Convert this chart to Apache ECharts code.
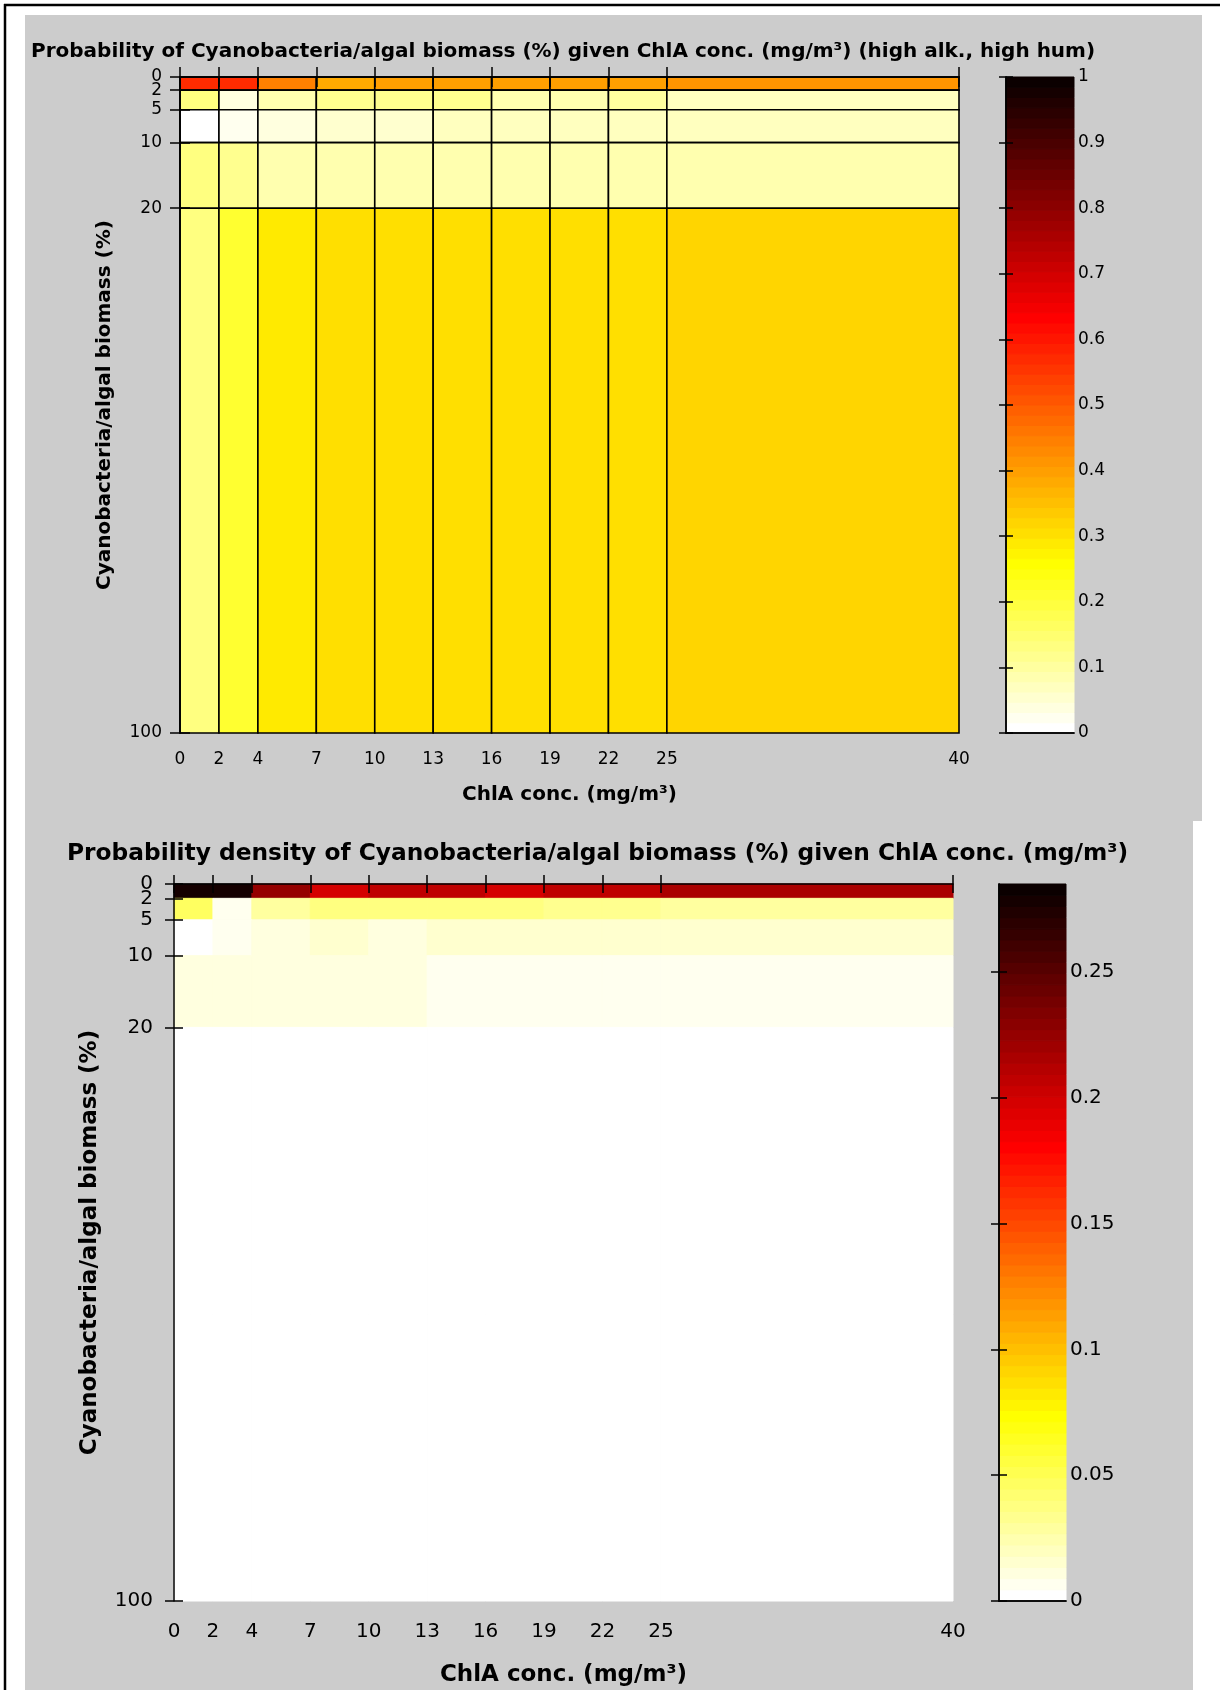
<!DOCTYPE html>
<html>
<head>
<meta charset="utf-8">
<title>Cyanobacteria / ChlA probability</title>
<script src="https://cdn.jsdelivr.net/npm/echarts@6/dist/echarts.min.js"></script>
<style>
  html, body { margin: 0; padding: 0; background: #fff; }
  #chart { width: 1220px; height: 1690px; }
</style>
</head>
<body>
<div id="chart"></div>
<script>
// bin edges (cells are drawn between consecutive edges)
const chlaEdges = [0, 2, 4, 7, 10, 13, 16, 19, 22, 25, 40];
const cyanoEdges = [0, 2, 5, 10, 20, 100];
// tick labels
const chlaTicks = [0, 2, 4, 7, 10, 13, 16, 19, 22, 25, 40];
const cyanoTicks = [0, 2, 5, 10, 20, 100];
const probBarTicks = [0, 0.1, 0.2, 0.3, 0.4, 0.5, 0.6, 0.7, 0.8, 0.9, 1];
const densBarTicks = [0, 0.05, 0.1, 0.15, 0.2, 0.25];
const probMax = 1;
const densMax = 0.285;

// top chart: probability, one array per cyano bin, one value per ChlA bin
const prob0to2   = [0.565, 0.565, 0.45, 0.39, 0.40, 0.40, 0.40, 0.405, 0.405, 0.42];
const prob2to5   = [0.14, 0.033, 0.083, 0.113, 0.113, 0.117, 0.093, 0.093, 0.10, 0.078];
const prob5to10  = [0.0, 0.023, 0.041, 0.062, 0.057, 0.07, 0.068, 0.078, 0.07, 0.066];
const prob10to20 = [0.133, 0.12, 0.088, 0.088, 0.083, 0.083, 0.085, 0.085, 0.088, 0.085];
const prob20to100 = [0.133, 0.217, 0.284, 0.30, 0.30, 0.30, 0.307, 0.312, 0.312, 0.328];

// bottom chart: probability density
const dens0to2   = [0.278, 0.278, 0.227, 0.1995, 0.208, 0.205, 0.1995, 0.205, 0.205, 0.214];
const dens2to5   = [0.0475, 0.0086, 0.0285, 0.038, 0.038, 0.038, 0.038, 0.033, 0.033, 0.0285];
const dens5to10  = [0.002, 0.006, 0.0095, 0.0145, 0.011, 0.0165, 0.0165, 0.0165, 0.0165, 0.0165];
const dens10to20 = [0.010, 0.0095, 0.0095, 0.0095, 0.0095, 0.005, 0.005, 0.005, 0.005, 0.005];
const dens20to100 = [0.0016, 0.0027, 0.0035, 0.0038, 0.0038, 0.0038, 0.0038, 0.0039, 0.0039, 0.0041];

const probRows = [prob0to2, prob2to5, prob5to10, prob10to20, prob20to100];
const densRows = [dens0to2, dens2to5, dens5to10, dens10to20, dens20to100];

// reversed matlab "hot" colormap, 64 levels, white -> yellow -> red -> black
function clamp01(v) { return Math.max(0, Math.min(1, v)); }
function hex(v) { return Math.round(v * 255).toString(16).padStart(2, '0'); }
const hotColors = [];
for (let i = 0; i < 64; i++) {
  const j = 63 - i;
  const r = clamp01((j + 1) / 24);
  const g = clamp01((j + 1 - 24) / 24);
  const b = clamp01((j + 1 - 48) / 16);
  hotColors.push('#' + hex(r) + hex(g) + hex(b));
}
function pieces(max) {
  return hotColors.map((c, i) => i < 63
    ? { gte: i * max / 64, lt: (i + 1) * max / 64, color: c }
    : { gte: i * max / 64, lte: max * 1.01, color: c });
}

function cells(rows) {
  const out = [];
  rows.forEach((row, r) => {
    row.forEach((v, c) => {
      out.push([chlaEdges[c], chlaEdges[c + 1], cyanoEdges[r], cyanoEdges[r + 1], v]);
    });
  });
  return out;
}
function barStripes(max) {
  return hotColors.map((c, i) => [0, 1, i * max / 64, (i + 1) * max / 64, (i + 0.5) * max / 64]);
}

function cellRenderer(edge, width) {
  return function (params, api) {
    const a = api.coord([api.value(0), api.value(2)]);
    const b = api.coord([api.value(1), api.value(3)]);
    const color = api.visual('color');
    return {
      type: 'rect',
      shape: {
        x: Math.min(a[0], b[0]), y: Math.min(a[1], b[1]),
        width: Math.abs(b[0] - a[0]), height: Math.abs(b[1] - a[1])
      },
      style: { fill: color, stroke: edge || color, lineWidth: width || 1 }
    };
  };
}

const FONT = 'DejaVu Sans';
const black = '#000';

// the 0 and 2 labels sit on top of each other, so the y labels are split over two
// overlaid axes, otherwise echarts drops one of them
const cyanoLabelsA = cyanoTicks.filter((v, i) => i % 2 === 0);
const cyanoLabelsB = cyanoTicks.filter((v, i) => i % 2 === 1);

function heatAxes(grid, fs, nameFs, tickLen, lblMargin, xGap, yGap, boxAll) {
  const lbl = { color: black, fontFamily: FONT, fontSize: fs, margin: lblMargin,
    showMinLabel: true, showMaxLabel: true };
  const nameStyle = { color: black, fontFamily: FONT, fontWeight: 'bold', fontSize: nameFs };
  const tickStyle = { color: black, width: 1.5 };
  return {
    x: [
      {
        gridIndex: grid, type: 'value', position: 'bottom', min: 0, max: 40, z: 10,
        axisLine: { show: true, lineStyle: { color: black, width: 1.5 } },
        axisTick: { show: true, length: tickLen, customValues: chlaTicks, lineStyle: tickStyle },
        axisLabel: Object.assign({ customValues: chlaTicks }, lbl),
        splitLine: { show: false },
        name: 'ChlA conc. (mg/m³)', nameLocation: 'middle', nameGap: xGap, nameTextStyle: nameStyle
      },
      {
        gridIndex: grid, type: 'value', position: 'top', min: 0, max: 40, z: 10,
        axisLine: { show: boxAll, lineStyle: { color: black, width: 1.5 } },
        axisTick: { show: true, length: tickLen, customValues: chlaTicks, lineStyle: tickStyle },
        axisLabel: { show: false }, splitLine: { show: false }
      }
    ],
    y: [
      {
        gridIndex: grid, type: 'value', position: 'left', min: 0, max: 100, inverse: true, z: 10,
        axisLine: { show: boxAll, lineStyle: { color: black, width: 1.5 } },
        axisTick: { show: true, length: tickLen, customValues: cyanoTicks, lineStyle: tickStyle },
        axisLabel: Object.assign({ customValues: cyanoLabelsA }, lbl),
        splitLine: { show: false },
        name: 'Cyanobacteria/algal biomass (%)', nameLocation: 'middle', nameRotate: 90,
        nameGap: yGap, nameTextStyle: nameStyle
      },
      {
        gridIndex: grid, type: 'value', position: 'right', min: 0, max: 100, inverse: true, z: 10,
        axisLine: { show: true, lineStyle: { color: black, width: 1.5 } },
        axisTick: { show: true, length: tickLen, customValues: cyanoTicks, lineStyle: tickStyle },
        axisLabel: { show: false }, splitLine: { show: false }
      },
      {
        gridIndex: grid, type: 'value', position: 'left', offset: 0, min: 0, max: 100, inverse: true, z: 10,
        axisLine: { show: false }, axisTick: { show: false },
        axisLabel: Object.assign({ customValues: cyanoLabelsB }, lbl),
        splitLine: { show: false }
      }
    ]
  };
}

function barAxes(grid, max, ticks, fs, tickLen) {
  const line = { show: true, lineStyle: { color: black, width: 1.5 } };
  const plainX = (pos) => ({
    gridIndex: grid, type: 'value', position: pos, min: 0, max: 1, z: 10,
    axisLine: line, axisTick: { show: false }, axisLabel: { show: false }, splitLine: { show: false }
  });
  return {
    x: [plainX('bottom'), plainX('top')],
    y: [
      {
        gridIndex: grid, type: 'value', position: 'right', min: 0, max: max, z: 10,
        axisLine: line,
        axisTick: { show: true, inside: true, length: tickLen, customValues: ticks, lineStyle: { color: black, width: 1.5 } },
        axisLabel: { customValues: ticks, color: black, fontFamily: FONT, fontSize: fs, margin: 4,
          showMinLabel: true, showMaxLabel: true },
        splitLine: { show: false }
      },
      {
        gridIndex: grid, type: 'value', position: 'left', min: 0, max: max, z: 10,
        axisLine: line,
        axisTick: { show: true, inside: true, length: tickLen, customValues: ticks, lineStyle: { color: black, width: 1.5 } },
        axisLabel: { show: false }, splitLine: { show: false }
      }
    ]
  };
}

const topHeat = heatAxes(0, 17, 20, 10, 18, 52, 65, true);
const topBar = barAxes(1, probMax, probBarTicks, 17, 7);
const botHeat = heatAxes(2, 20, 23, 9, 21, 63, 72, false);
const botBar = barAxes(3, densMax, densBarTicks, 20, 8);
// axis indices: top heat x 0-1 / y 0-2, top bar x 2-3 / y 3-4,
// bottom heat x 4-5 / y 5-7, bottom bar x 6-7 / y 8-9

const option = {
  animation: false,
  backgroundColor: '#fff',
  graphic: [
    { type: 'rect', z: -10, shape: { x: 25, y: 15, width: 1177, height: 806 }, style: { fill: '#cccccc' } },
    { type: 'rect', z: -10, shape: { x: 25, y: 821, width: 1168, height: 869 }, style: { fill: '#cccccc' } },
    { type: 'line', z: -5, shape: { x1: 4, y1: 5, x2: 1220, y2: 5 }, style: { stroke: black, lineWidth: 2.5 } },
    { type: 'line', z: -5, shape: { x1: 5, y1: 4, x2: 5, y2: 1690 }, style: { stroke: black, lineWidth: 2.5 } }
  ],
  title: [
    {
      text: 'Probability of Cyanobacteria/algal biomass (%) given ChlA conc. (mg/m³) (high alk., high hum)',
      left: 31, top: 42, padding: 0,
      textStyle: { color: black, fontFamily: FONT, fontWeight: 'bold', fontSize: 20 }
    },
    {
      text: 'Probability density of Cyanobacteria/algal biomass (%) given ChlA conc. (mg/m³)',
      left: 67, top: 842, padding: 0,
      textStyle: { color: black, fontFamily: FONT, fontWeight: 'bold', fontSize: 23.3 }
    }
  ],
  grid: [
    { left: 180, top: 77, width: 779, height: 656, outerBoundsMode: 'none' },
    { left: 1006, top: 77, width: 68, height: 656, outerBoundsMode: 'none' },
    { left: 174, top: 884, width: 779, height: 717, outerBoundsMode: 'none' },
    { left: 999, top: 884, width: 67, height: 717, outerBoundsMode: 'none' }
  ],
  xAxis: [].concat(topHeat.x, topBar.x, botHeat.x, botBar.x),
  yAxis: [].concat(topHeat.y, topBar.y, botHeat.y, botBar.y),
  visualMap: [
    { type: 'piecewise', show: false, dimension: 4, seriesIndex: [0, 1], pieces: pieces(probMax) },
    { type: 'piecewise', show: false, dimension: 4, seriesIndex: [2, 3], pieces: pieces(densMax) }
  ],
  series: [
    {
      type: 'custom', name: 'probability', xAxisIndex: 0, yAxisIndex: 0, silent: true,
      renderItem: cellRenderer('#000', 1.6), data: cells(probRows)
    },
    {
      type: 'custom', name: 'probability bar', xAxisIndex: 2, yAxisIndex: 3, silent: true,
      renderItem: cellRenderer(null), data: barStripes(probMax)
    },
    {
      type: 'custom', name: 'density', xAxisIndex: 4, yAxisIndex: 5, silent: true,
      renderItem: cellRenderer(null), data: cells(densRows)
    },
    {
      type: 'custom', name: 'density bar', xAxisIndex: 6, yAxisIndex: 8, silent: true,
      renderItem: cellRenderer(null), data: barStripes(densMax)
    }
  ]
};

const chart = echarts.init(document.getElementById('chart'));
chart.setOption(option);
window.addEventListener('resize', () => chart.resize());
</script>
</body>
</html>
